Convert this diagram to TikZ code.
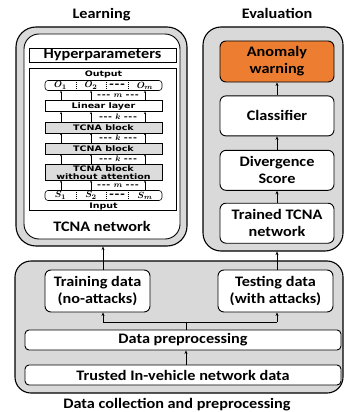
\documentclass[tikz,border=0pt]{standalone}
\usepackage{amsmath}
\usepackage{amssymb}
\usepackage{fontspec}
\setmainfont{Carlito}[FakeStretch=1.12]
\newfontfamily\netfont{DejaVu Sans}[FakeStretch=1.25]
\usetikzlibrary{arrows.meta, positioning, calc}
\definecolor{panelgray}{HTML}{D9D9D9}
\definecolor{blockgray}{HTML}{DCDCDC}
\definecolor{warnorange}{HTML}{ED7D31}
\tikzstyle{arrow} = [line width=0.7pt,-{Stealth[length=3.5pt,width=3pt]}]
\tikzstyle{netarrow} = [line width=0.5pt,-{Stealth[length=2pt,width=2pt]}]
\newcommand{\bigtxt}{\fontsize{14.5pt}{17pt}\selectfont\bfseries}
\newcommand{\nettxt}{\netfont\fontsize{7.6pt}{7.8pt}\selectfont\bfseries}
\newcommand{\celltxt}{\netfont\fontsize{9.5pt}{9.5pt}\selectfont\bfseries}
\newcommand{\dashes}{-\kern0.6pt-\kern0.6pt-}

\begin{document}
\begin{tikzpicture}[x=1pt, y=-1pt,
  panel/.style={draw, line width=1.1pt, fill=panelgray, rounded corners=18pt},
  stage/.style={draw, line width=0.9pt, fill=white, rounded corners=6pt, align=center, font=\bigtxt, inner sep=0pt},
  evalnode/.style={stage, minimum width=114pt, minimum height=40pt},
  title/.style={font=\bigtxt, anchor=base, inner sep=0pt},
  layer/.style={draw, line width=0.6pt, fill=white, minimum width=117pt, inner sep=0pt, align=center, font=\nettxt},
  tcnablock/.style={layer, fill=blockgray},
  seqrow/.style={draw, line width=0.6pt, rounded corners=3pt, minimum width=117pt, minimum height=10pt, inner sep=0pt},
  gaplabel/.style={font=\nettxt, inner sep=0pt},
  cell/.style={font=\celltxt, inner sep=0pt}]

\useasboundingbox (0,0) rectangle (344,412);

% learning side
\node[title] (learntitle) at (101.5,18.5) {Learning};
\node[panel, rounded corners=20pt, minimum width=171pt, minimum height=219pt] (learnpanel) at (101.5,136.5) {};
\node[draw, line width=0.9pt, fill=white, rounded corners=15pt, minimum width=156pt, minimum height=205pt] (learnin) at (102,136.5) {};
\node[draw, line width=0.9pt, fill=white, minimum width=147pt, minimum height=14pt, inner sep=0pt, font=\bigtxt] (hyper) at (102.5,55) {Hyperparameters};
\node[draw, line width=0.6pt, fill=white, minimum width=147pt, minimum height=142pt] (netbox) at (102.5,139) {};
\node[font=\bigtxt, inner sep=0pt] (tcnanet) at (102,226.5) {TCNA network};

% the network inside
\node[seqrow] (inrow) at (103.5,195.5) {};
\node[tcnablock, minimum height=16pt, above=9.6pt of inrow] (tcnc) {TCNA block\\without attention};
\node[tcnablock, minimum height=11pt, above=9.6pt of tcnc] (tcnb) {TCNA block};
\node[tcnablock, minimum height=11pt, above=9.6pt of tcnb] (tcna) {TCNA block};
\node[layer, minimum height=11pt, above=9.6pt of tcna] (lin) {Linear layer};
\node[seqrow, above=9.6pt of lin] (outrow) {};
\node[gaplabel, above=2pt of outrow] (outlabel) {Output};
\node[gaplabel, below=1.5pt of inrow] (inlabel) {Input};

\foreach \row in {outrow, inrow}
  \foreach \s in {76,106,128}
    \draw[line width=0.5pt, dash pattern=on 1pt off 1pt] (\s,0 |- \row.north) -- (\s,0 |- \row.south);

\foreach \x/\t [count=\i] in {60.5/{$\boldsymbol{O_1}$}, 91/{$\boldsymbol{O_2}$}, 117/{\dashes}, 145/{$\boldsymbol{O_m}$}}
  \node[cell] (ocell\i) at (\x,0 |- outrow) {\t};
\foreach \x/\t [count=\i] in {60.5/{$\boldsymbol{S_1}$}, 91/{$\boldsymbol{S_2}$}, 117/{\dashes}, 145/{$\boldsymbol{S_m}$}}
  \node[cell] (scell\i) at (\x,0 |- inrow) {\t};

\foreach \lo/\hi/\n in {inrow/tcnc/m, tcnc/tcnb/k, tcnb/tcna/k, tcna/lin/k, lin/outrow/m} {
  \foreach \c in {61,91,145}
    \draw[netarrow] (\c,0 |- \lo.north) -- (\c,0 |- \hi.south);
  \node[gaplabel] (gap\lo) at ($(118,0 |- \lo.north)!0.5!(118,0 |- \hi.south)$) {\dashes\ $\boldsymbol{\n}$\ \dashes};
}

% evaluation side
\node[title] (evaltitle) at (277,18.5) {Evaluation};
\node[panel, minimum width=140pt, minimum height=224pt] (evalpanel) at (273,139) {};
\node[evalnode, fill=warnorange, minimum height=41pt] (warn) at (277,61.5) {Anomaly\\warning};
\node[evalnode, below=13pt of warn] (classifier) {Classifier};
\node[evalnode, below=13.5pt of classifier] (divergence) {Divergence\\Score};
\node[evalnode, below=12pt of divergence] (trained) {Trained TCNA\\network};
\draw[arrow] (trained) -- (divergence);
\draw[arrow] (divergence) -- (classifier);
\draw[arrow] (classifier) -- (warn);

% data collection
\node[panel, rounded corners=16pt, minimum width=328pt, minimum height=132pt] (datapanel) at (179,327) {};
\node[title] (datatitle) at (177,408.5) {Data collection and preprocessing};
\node[stage, minimum width=105pt, minimum height=42pt] (training) at (97.5,291) {Training data\\(no-attacks)};
\node[stage, minimum width=115pt, minimum height=42pt] (testing) at (275.5,291) {Testing data\\(with attacks)};
\node[stage, rounded corners=4pt, minimum width=316pt, minimum height=20pt] (prep) at (183,340) {Data preprocessing};
\node[stage, rounded corners=4pt, minimum width=316pt, minimum height=20pt] (trusted) at (183,375) {Trusted In-vehicle network data};

\coordinate (split) at (186,322);
\coordinate (trainjoin) at (103,322);
\coordinate (testjoin) at (277,322);
\draw[arrow] (split |- trusted.north) -- (split |- prep.south);
\draw[line width=0.7pt] (split |- prep.north) -- (split);
\draw[line width=0.7pt] (trainjoin) -- (testjoin);
\draw[arrow] (trainjoin) -- (trainjoin |- training.south);
\draw[arrow] (testjoin) -- (testjoin |- testing.south);
\draw[arrow] (trainjoin |- training.north) -- (trainjoin |- learnpanel.south);
\draw[arrow] (testjoin |- testing.north) -- (testjoin |- evalpanel.south);
\end{tikzpicture}
\end{document}
